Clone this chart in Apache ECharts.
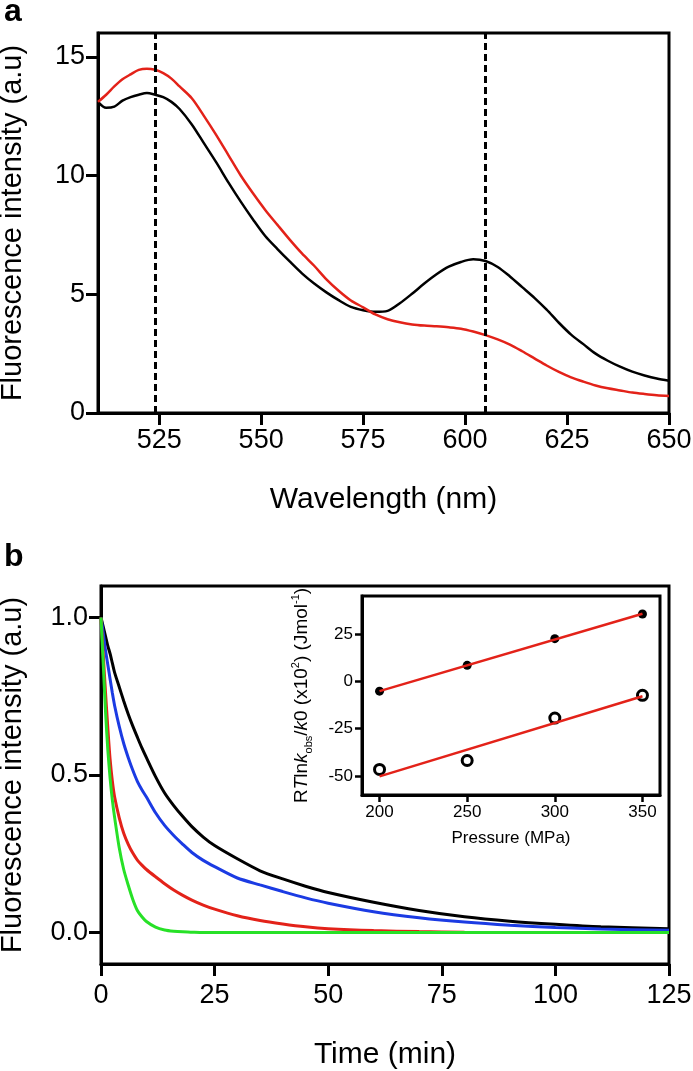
<!DOCTYPE html>
<html>
<head>
<meta charset="utf-8">
<script src="https://cdn.jsdelivr.net/npm/echarts@6/dist/echarts.min.js"></script>
<style>
  html, body { margin: 0; padding: 0; background: #fff; }
  #main { width: 693px; height: 1071px; }
</style>
</head>
<body>
<div id="main"></div>
<script>
// ---- panel a : emission spectra ----
var wavelength = [510, 512, 514, 516, 518, 520, 522, 524, 526, 528, 530, 533, 536, 539, 542, 545, 548, 551, 554, 557,
  560, 563, 566, 569, 572, 575, 578, 581, 584, 587, 590, 593, 596, 599, 602, 605, 608, 611, 614, 617,
  620, 623, 626, 629, 632, 635, 638, 641, 644, 647, 650];
var spectrumBlack = [13.1, 12.85, 12.9, 13.15, 13.3, 13.4, 13.47, 13.4, 13.3, 13.1, 12.8, 12.15, 11.35, 10.55, 9.7, 8.9, 8.15, 7.45, 6.9, 6.38,
  5.88, 5.45, 5.08, 4.75, 4.47, 4.33, 4.26, 4.3, 4.62, 5.02, 5.45, 5.84, 6.16, 6.36, 6.47, 6.4, 6.15, 5.75, 5.3, 4.85,
  4.35, 3.8, 3.3, 2.9, 2.5, 2.2, 1.95, 1.74, 1.58, 1.45, 1.36];
var spectrumRed = [13.1, 13.4, 13.75, 14.05, 14.26, 14.45, 14.5, 14.45, 14.31, 14.08, 13.75, 13.25, 12.5, 11.7, 10.85, 10.0, 9.25, 8.55, 7.92, 7.3,
  6.72, 6.2, 5.63, 5.15, 4.74, 4.45, 4.15, 3.95, 3.82, 3.73, 3.68, 3.65, 3.61, 3.55, 3.43, 3.28, 3.1, 2.88, 2.6, 2.3,
  2.0, 1.73, 1.5, 1.32, 1.16, 1.04, 0.95, 0.86, 0.8, 0.75, 0.72];
var dashedAt = [524, 605];
var wavelengthTicks = [525, 550, 575, 600, 625, 650];
var intensityTicksA = [0, 5, 10, 15];

// ---- panel b : decay curves ----
var timeMin = [0, 0.5, 1, 1.5, 2, 2.5, 3, 4, 5, 6, 7, 8, 9, 10, 12, 14, 16, 18, 20, 22.5, 25,
  30, 35, 40, 45, 50, 60, 70, 80, 90, 100, 110, 125];
var decayBlack = [1.0, 0.97, 0.94, 0.91, 0.885, 0.855, 0.825, 0.78, 0.735, 0.693, 0.655, 0.62, 0.586, 0.555, 0.495, 0.443, 0.403, 0.368, 0.336, 0.303, 0.276,
  0.234, 0.196, 0.17, 0.147, 0.127, 0.096, 0.07, 0.05, 0.036, 0.026, 0.018, 0.012];
var decayBlue = [1.0, 0.95, 0.895, 0.85, 0.805, 0.76, 0.72, 0.655, 0.6, 0.555, 0.515, 0.48, 0.453, 0.43, 0.38, 0.34, 0.308, 0.28, 0.254, 0.229, 0.209,
  0.173, 0.151, 0.13, 0.11, 0.093, 0.066, 0.047, 0.033, 0.023, 0.016, 0.011, 0.007];
var decayRed = [1.0, 0.88, 0.76, 0.65, 0.55, 0.48, 0.43, 0.365, 0.315, 0.28, 0.252, 0.23, 0.214, 0.2, 0.177, 0.155, 0.135, 0.118, 0.103, 0.087, 0.074,
  0.053, 0.038, 0.027, 0.018, 0.012, 0.006, 0.003, 0.001, 0, 0, 0, 0];
var decayGreen = [1.0, 0.85, 0.7, 0.58, 0.49, 0.42, 0.365, 0.27, 0.2, 0.15, 0.105, 0.07, 0.05, 0.035, 0.017, 0.008, 0.004, 0.002, 0.001, 0, 0,
  0, 0, 0, 0, 0, 0, 0, 0, 0, 0, 0, 0];
var timeTicks = [0, 25, 50, 75, 100, 125];
var intensityTicksB = [0, 0.5, 1.0];

// ---- inset ----
var pressure = [200, 250, 300, 350];
var filledPts = [-5.2, 8.4, 22.5, 35.5];
var openPts = [-46.5, -41.8, -19.4, -7.4];
var fitEnds = [200, 350];
var fitFilled = [-5.2, 35.6];
var fitOpen = [-50.2, -7.9];
var pressureTicks = [200, 250, 300, 350];
var insetTicksY = [-50, -25, 0, 25];

var font = 'Liberation Sans, Arial, Helvetica, sans-serif';

function zip(xs, ys) {
  return xs.map(function (x, i) { return [x, ys[i]]; });
}

// common axis look
function axis(gridIndex, min, max, ticks, opt) {
  return {
    gridIndex: gridIndex,
    type: 'value',
    min: min,
    max: max,
    splitLine: { show: false },
    axisLine: { show: true, onZero: false, lineStyle: { color: '#000', width: 3 } },
    axisTick: { show: true, customValues: ticks, length: opt.tickLen || 12, lineStyle: { color: '#000', width: opt.tickWidth || 3 } },
    axisLabel: {
      customValues: ticks, color: '#000', fontFamily: font, fontSize: opt.labelSize || 27, margin: opt.margin || 14,
      formatter: opt.formatter
    },
    name: opt.name,
    nameLocation: 'middle',
    nameGap: opt.nameGap,
    nameRotate: opt.nameRotate,
    nameTextStyle: { color: '#000', fontFamily: font, fontSize: opt.nameSize || 30, rich: opt.rich }
  };
}

function decayLine(data, color) {
  return {
    type: 'line', xAxisIndex: 1, yAxisIndex: 1, data: zip(timeMin, data),
    showSymbol: false, smooth: 0.25, lineStyle: { color: color, width: 3 }
  };
}

var chart = echarts.init(document.getElementById('main'));
chart.setOption({
  animation: false,
  backgroundColor: '#fff',
  textStyle: { fontFamily: font },
  graphic: [
    { type: 'text', left: 4, top: -4, style: { text: 'a', font: 'bold 32px Liberation Sans', fill: '#000' } },
    { type: 'text', left: 4, top: 541, style: { text: 'b', font: 'bold 32px Liberation Sans', fill: '#000' } }
  ],
  grid: [
    { left: 98, top: 33, width: 571, height: 380, show: true, borderColor: '#000', borderWidth: 3, outerBoundsMode: 'none' },
    { left: 101, top: 586, width: 568, height: 378, show: true, borderColor: '#000', borderWidth: 3, outerBoundsMode: 'none' },
    { left: 362, top: 596, width: 298, height: 199, show: true, borderColor: '#000', borderWidth: 3, outerBoundsMode: 'none' }
  ],
  xAxis: [
    axis(0, 510, 650, wavelengthTicks, { name: 'Wavelength (nm)', nameGap: 72 }),
    axis(1, 0, 125, timeTicks, { name: 'Time (min)', nameGap: 76, margin: 18 }),
    axis(2, 190, 360, pressureTicks, { name: 'Pressure (MPa)', nameGap: 35, nameSize: 17, labelSize: 17, margin: 9, tickLen: 7, tickWidth: 2.5 })
  ],
  yAxis: [
    axis(0, 0, 16, intensityTicksA, { name: 'Fluorescence intensity (a.u)', nameGap: 71, nameSize: 29, margin: 13 }),
    axis(1, -0.1, 1.1, intensityTicksB, {
      name: 'Fluorescence intensity (a.u)', nameGap: 74, nameSize: 29, margin: 13,
      formatter: function (v) { return v.toFixed(1); }
    }),
    axis(2, -60, 45, insetTicksY, {
      name: '{r|R}{i|T}{r|ln}{i|k}{sub|obs}{r|/}{i|k}{r|0 (x10}{sup|2}{r|) (Jmol}{sup|-1}{r|)}',
      nameGap: 48, nameSize: 19, labelSize: 17, margin: 9, tickLen: 7, tickWidth: 2.5,
      rich: {
        r: { fontSize: 19, lineHeight: 24, fontFamily: font, color: '#000' },
        i: { fontSize: 19, lineHeight: 24, fontStyle: 'italic', fontFamily: font, color: '#000' },
        sub: { fontSize: 11, lineHeight: 24, verticalAlign: 'bottom', fontFamily: font, color: '#000' },
        sup: { fontSize: 11, lineHeight: 24, verticalAlign: 'top', fontFamily: font, color: '#000' }
      }
    })
  ],
  series: [
    {
      type: 'line', xAxisIndex: 0, yAxisIndex: 0, data: zip(wavelength, spectrumBlack),
      showSymbol: false, smooth: 0.3, lineStyle: { color: '#000', width: 2.5 },
      markLine: {
        silent: true, symbol: ['none', 'none'], label: { show: false },
        lineStyle: { color: '#000', type: [7, 4], width: 3 },
        data: dashedAt.map(function (x) { return { xAxis: x }; })
      }
    },
    {
      type: 'line', xAxisIndex: 0, yAxisIndex: 0, data: zip(wavelength, spectrumRed),
      showSymbol: false, smooth: 0.3, lineStyle: { color: '#e32219', width: 2.5 }
    },
    decayLine(decayBlack, '#000'),
    decayLine(decayBlue, '#1b3be3'),
    decayLine(decayRed, '#e32219'),
    decayLine(decayGreen, '#27e127'),
    // inset fits + points
    { type: 'line', xAxisIndex: 2, yAxisIndex: 2, data: zip(fitEnds, fitFilled), showSymbol: false, lineStyle: { color: '#e32219', width: 2.5 } },
    { type: 'line', xAxisIndex: 2, yAxisIndex: 2, data: zip(fitEnds, fitOpen), showSymbol: false, lineStyle: { color: '#e32219', width: 2.5 } },
    {
      type: 'scatter', xAxisIndex: 2, yAxisIndex: 2, data: zip(pressure, filledPts), symbol: 'circle', symbolSize: 9,
      itemStyle: { color: '#000', opacity: 1 }
    },
    {
      type: 'scatter', xAxisIndex: 2, yAxisIndex: 2, data: zip(pressure, openPts), symbol: 'circle', symbolSize: 10,
      itemStyle: { color: '#fff', borderColor: '#000', borderWidth: 3, opacity: 1 }
    }
  ]
});
</script>
</body>
</html>
